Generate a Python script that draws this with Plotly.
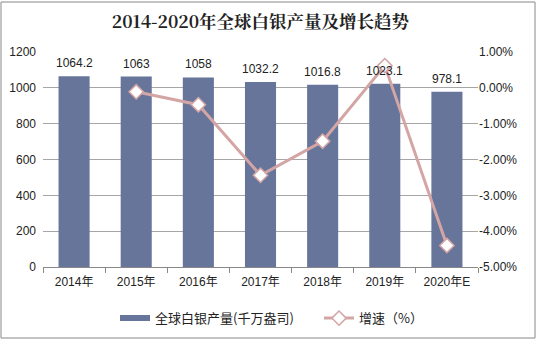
import plotly.graph_objects as go

years = ["2014年", "2015年", "2016年", "2017年", "2018年", "2019年", "2020年E"]
output = [1064.2, 1063, 1058, 1032.2, 1016.8, 1023.1, 978.1]
growth_years = ["2015年", "2016年", "2017年", "2018年", "2019年", "2020年E"]
growth = [-0.11, -0.47, -2.44, -1.49, 0.62, -4.40]
left_ticks = [0, 200, 400, 600, 800, 1000, 1200]
right_ticks = [-5, -4, -3, -2, -1, 0, 1]
right_labels = ["-5.00%", "-4.00%", "-3.00%", "-2.00%", "-1.00%", "0.00%", "1.00%"]

BAR_COLOR = "#67759b"
LINE_COLOR = "#d4a5a5"

fig = go.Figure()
fig.add_trace(go.Bar(
    x=years, y=output, name="全球白银产量(千万盎司)", showlegend=False,
    marker=dict(color=BAR_COLOR, line=dict(width=0)),
    width=0.5,
))
# legend swatch for the bar series (wide flat bar like the reference)
fig.add_trace(go.Scatter(
    x=[None], y=[None], name="全球白银产量(千万盎司)", mode="lines",
    line=dict(color=BAR_COLOR, width=6), legend="legend",
))
fig.add_trace(go.Scatter(
    x=growth_years, y=growth, name="增速（%）", yaxis="y2",
    mode="lines+markers",
    line=dict(color=LINE_COLOR, width=3),
    marker=dict(symbol="diamond", size=11, color="white",
                line=dict(color=LINE_COLOR, width=1.5)),
    legend="legend2",
))

# data labels drawn on top of everything
annotations = [
    dict(x=yr, y=v, xref="x", yref="y", text=str(v), showarrow=False,
         yshift=13, font=dict(family="Liberation Sans, Arial", size=12, color="#222"))
    for yr, v in zip(years, output)
]

fig.update_layout(
    width=537, height=340,
    margin=dict(l=43, r=59, t=52, b=73, autoexpand=False),
    paper_bgcolor="white", plot_bgcolor="white",
    title=dict(text="<b>2014-2020年全球白银产量及增长趋势</b>", x=0.485, xanchor="center",
               y=0.935, yanchor="middle",
               font=dict(family="Noto Serif CJK SC, Noto Sans CJK SC", size=17.5, color="#222")),
    font=dict(family="Liberation Sans, Arial, Noto Sans CJK SC", size=12, color="#222"),
    bargap=0.5,
    annotations=annotations,
    xaxis=dict(type="category", showline=True, linecolor="#888", linewidth=1,
               ticks="outside", tickson="boundaries", ticklen=5, tickcolor="#888",
               showgrid=False, tickfont=dict(size=12), ticklabelstandoff=4),
    yaxis=dict(range=[0, 1200], tickvals=left_ticks, showgrid=True, gridcolor="#a6a6a6",
               gridwidth=1, zeroline=False, showline=False, ticks="", ticklabelstandoff=6),
    yaxis2=dict(range=[-5, 1], tickvals=right_ticks, ticktext=right_labels, overlaying="y",
                side="right", showgrid=False, zeroline=False, showline=False, ticks=""),
    legend=dict(orientation="h", x=(115 - 43) / 435, xanchor="left", y=-0.238, yanchor="middle",
                font=dict(family="Noto Sans CJK SC", size=13), itemwidth=30,
                bgcolor="rgba(0,0,0,0)"),
    legend2=dict(orientation="h", x=(319 - 43) / 435, xanchor="left", y=-0.238, yanchor="middle",
                 font=dict(family="Noto Sans CJK SC", size=13), itemwidth=30,
                 bgcolor="rgba(0,0,0,0)"),
    shapes=[dict(type="rect", xref="paper", yref="paper", x0=-42/435, x1=1+57/435,
                 y0=-71/215, y1=1+50/215, line=dict(color="#888", width=1))],
)

fig.write_html("out.html")
